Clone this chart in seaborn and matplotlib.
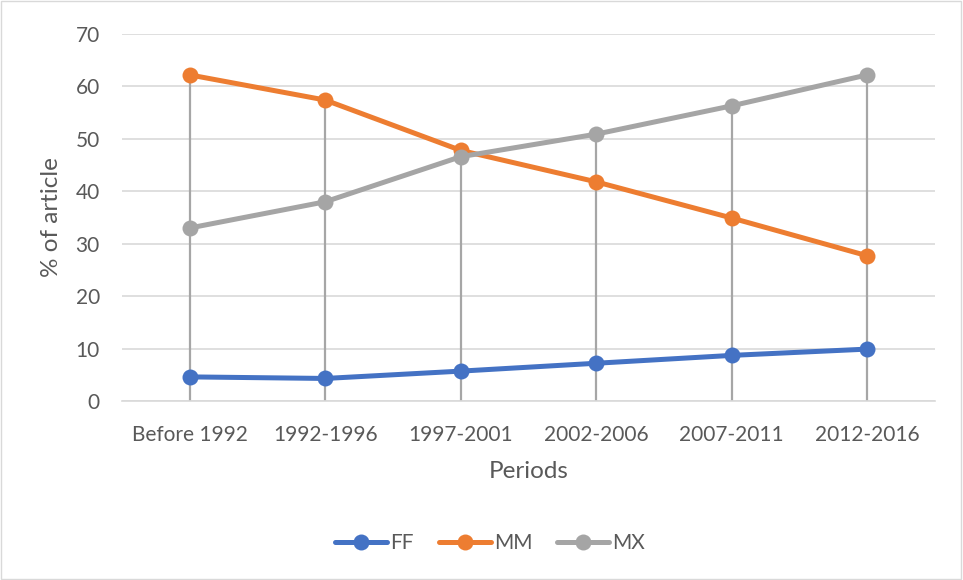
import matplotlib
matplotlib.use("Agg")
import matplotlib.pyplot as plt
import seaborn as sns
import pandas as pd
import numpy as np
from matplotlib.patches import Rectangle
from matplotlib.lines import Line2D

periods = ["Before 1992", "1992-1996", "1997-2001", "2002-2006", "2007-2011", "2012-2016"]
ff = [4.6, 4.3, 5.7, 7.2, 8.7, 9.9]
mm = [62.2, 57.4, 47.8, 41.8, 34.9, 27.7]
mx = [33.0, 38.0, 46.6, 50.9, 56.3, 62.2]
series_names = ["FF", "MM", "MX"]
colors = ["#4472C4", "#ED7D31", "#A5A5A5"]

sns.set_theme(style="white")
plt.rcParams['font.family'] = ['Lato', 'DejaVu Sans']

pos = np.arange(len(periods))
df = pd.DataFrame({
    "pos": np.tile(pos, 3),
    "value": ff + mm + mx,
    "series": np.repeat(series_names, len(periods)),
})

fig = plt.figure(figsize=(9.63, 5.80), dpi=100)
ax = fig.add_axes([122/963, 1 - 401/580, (935-122)/963, (401-34)/580])

# drop lines
tops = np.max(np.vstack([ff, mm, mx]), axis=0)
ax.vlines(pos, 0, tops, color="#A6A6A6", linewidth=1.6, zorder=1)

sns.lineplot(data=df, x="pos", y="value", hue="series", palette=colors,
             marker="o", markersize=11.5, markeredgewidth=0, linewidth=3.6,
             ax=ax, zorder=3, legend=False)

ax.set_xlim(-0.5, len(periods) - 0.5)
ax.set_ylim(0, 70)
ax.set_yticks(range(0, 71, 10))
ax.set_xticks(pos)
ax.set_xticklabels(periods)
ax.yaxis.grid(True, color="#D9D9D9", linewidth=1.2)
ax.set_axisbelow(True)
for s in ["top", "right", "left"]:
    ax.spines[s].set_visible(False)
ax.spines["bottom"].set_color("#D9D9D9")
ax.spines["bottom"].set_linewidth(1.2)
ax.tick_params(axis="both", length=0, labelsize=15, labelcolor="#595959")
ax.tick_params(axis="y", pad=16)
ax.tick_params(axis="x", pad=17)
ax.set_xlabel("Periods", fontsize=17.5, color="#595959")
ax.set_ylabel("% of article", fontsize=17.5, color="#595959")
ax.yaxis.set_label_coords((62 - 122) / 813, 0.5)
ax.xaxis.set_label_coords(0.5, (401 - 461) / 367)

handles = [Line2D([0], [0], color=c, linewidth=3.6, marker="o", markersize=11.5, markeredgewidth=0) for c in colors]
fig.legend(handles, series_names, loc="center", bbox_to_anchor=(490/963, 1 - 543/580),
           ncol=3, frameon=False, fontsize=15, labelcolor="#595959",
           handlelength=2.5, handletextpad=0.15, columnspacing=1.2)

fig.patches.append(Rectangle((0.001, 0.002), 0.997, 0.996, transform=fig.transFigure,
                             fill=False, edgecolor="#D9D9D9", linewidth=1))

fig.savefig("out.png", dpi=100)
